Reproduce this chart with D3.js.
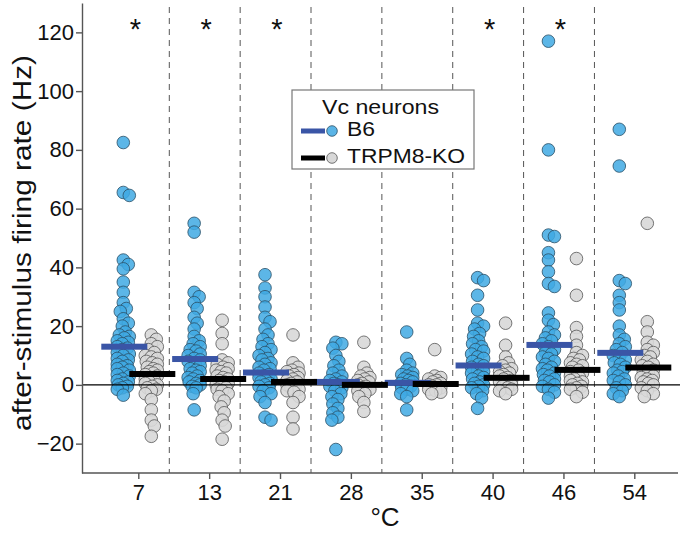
<!DOCTYPE html>
<html>
<head>
<script src="https://cdnjs.cloudflare.com/ajax/libs/d3/7.8.5/d3.min.js"></script>
<style type='text/css'>
  body { margin: 0; background: #fff; }
  svg text { font-family: "Liberation Sans", Arial, sans-serif; fill: #111; }
  .axis path, .axis line { stroke: #555; stroke-width: 1.4; }
  .axis text { font-size: 22px; fill: #111; font-family: "Liberation Sans", Arial, sans-serif; }
</style>
</head>
<body>
<div id='chart'></div>
<script type='text/javascript'>
var temps = ['7', '13', '21', '28', '35', '40', '46', '54'];
var yTicks = [-20, 0, 20, 40, 60, 80, 100, 120];
var starred = ['7', '13', '21', '40', '46'];

// B6 neurons, one list per temperature
var b6 = {
  '7':  [82.5, 65.5, 64.5, 42.5, 41, 39.5, 35, 31.5, 28, 26, 25, 22.5, 21, 20, 18, 17, 16.5, 16, 15, 14.5, 14, 13, 12.5, 12, 11, 10.5, 10, 9, 8.5, 8, 7, 6.5, 6, 5.5, 5, 4, 3.5, 3, 2, 1.5, 1, 0.5, 0, -0.5, -1, -1.5, -3.5],
  '13': [55, 52, 31.5, 30, 28, 26, 23, 21, 19, 16.5, 15, 14, 13, 12, 11.5, 10.5, 10, 9, 8.5, 8, 7, 6.5, 5.5, 5, 4.5, 4, 3, 2.5, 2, 1.5, 1, 0.5, 0, -0.5, -1, -3, -8.5],
  '21': [37.5, 33, 30, 26.5, 23, 21.5, 19, 17, 15.5, 14, 13, 12, 11, 10, 9, 8.5, 7.5, 7, 6, 5.5, 5, 4, 3.5, 3, 2.5, 2, 1.5, 1, 0.5, 0, -0.5, -1, -2, -3, -4, -6, -11, -12],
  '28': [14.5, 14, 12.5, 10, 8, 6.5, 5, 4, 3, 2, 1.5, 1, 0.5, 0, -0.5, -1, -2, -3, -4, -5, -6.5, -8, -9.5, -11, -12, -22],
  '35': [18, 9, 7, 5, 4, 3.5, 3, 2.5, 2, 1.5, 1, 0.5, 0, -0.5, -1, -1.5, -2, -3, -4, -8.5],
  '40': [36.5, 35.5, 30.5, 25.5, 21, 20, 19, 17.5, 16.5, 15, 14, 13, 12, 11.5, 10.5, 9.5, 9, 8, 7, 6.5, 6, 5, 4.5, 4, 3, 2.5, 2, 1, 0.5, 0, -0.5, -1, -2, -3, -4.5, -8],
  '46': [117, 80, 51, 50.5, 45, 42.5, 38.5, 34.5, 33.5, 24.5, 22, 20.5, 18, 17, 16, 15, 14, 13, 12, 11, 10.5, 9.5, 9, 8, 7, 6, 5.5, 5, 4, 3.5, 3, 2, 1.5, 1, 0, -0.5, -1.5, -2.5, -4.5],
  '54': [87, 74.5, 35.5, 34.5, 30.5, 28, 25.5, 20, 17, 15.5, 14, 13, 12, 11, 10, 9, 8.5, 7.5, 7, 6, 5, 4.5, 4, 3, 2, 1.5, 1, 0, -1, -2, -3, -4]
};

// TRPM8-KO neurons
var ko = {
  '7':  [17, 15.5, 14, 13, 12, 11, 10, 9.5, 9, 8, 7.5, 7, 6, 5.5, 5, 4.5, 4, 3.5, 3, 2.5, 2, 1.5, 1, 0.5, 0, -0.5, -1, -1.5, -2, -3, -5, -8.5, -12, -14, -17.5],
  '13': [22, 17.5, 14, 8.5, 7.5, 7, 6, 5.5, 5, 4.5, 4, 3, 2.5, 2, 1.5, 1, 0.5, 0, -0.5, -1, -1.5, -2, -3, -4, -5.5, -7.5, -9.5, -12, -14, -18.5],
  '21': [17, 7.5, 6, 5, 4.5, 4, 3.5, 3, 2.5, 2, 1.5, 1, 0.5, 0, -0.5, -1, -1.5, -2, -2.5, -4, -6, -11, -15],
  '28': [14.5, 6, 4, 3, 2.5, 2, 1.5, 1, 0.5, 0, -0.5, -1, -1.5, -2, -3, -4, -6, -9],
  '35': [12, 3, 2.5, 2, 1.5, 1, 0.5, 0, 0, -0.5, -1, -1.5, -2, -2.5, -3],
  '40': [21, 13.5, 9.5, 7.5, 6.5, 5.5, 5, 4.5, 4, 3.5, 3, 2.5, 2, 1.5, 1, 0.5, 0, -0.5, -1, -1.5, -2, -3],
  '46': [43, 30.5, 19.5, 16.5, 13.5, 11, 10, 9, 8.5, 7.5, 7, 6.5, 6, 5, 4.5, 4, 3.5, 3, 2.5, 2, 1.5, 1, 0.5, 0, -0.5, -1, -1.5, -2.5, -4],
  '54': [55, 21.5, 18, 14.5, 13.5, 12, 11, 10, 9.5, 8.5, 8, 7, 6.5, 6, 5, 4.5, 4, 3, 2.5, 2, 1.5, 1, 0.5, 0, -1, -2, -3, -4]
};

// mean bars as drawn
var b6Mean = [13, 8.8, 4.2, 1, 0.7, 6.6, 13.6, 10.9];
var koMean = [3.7, 2, 1, 0, 0.3, 2.4, 5.1, 5.9];

var W = 680, H = 533;
var mLeft = 82, mRight = 680, mTop = 3, mBottom = 473;

var svg = d3.select('#chart').append('svg')
  .attr('width', W).attr('height', H);

var x = d3.scalePoint().domain(temps).range([138.3, 634.3]);
var step = x.step();
var y = d3.scaleLinear().domain([-30, 130]).range([mBottom, mTop]);

// dashed separators
svg.append('g').selectAll('line')
  .data(temps.slice(1))
  .enter().append('line')
  .attr('x1', function(d) { return x(d) - step + 31; })
  .attr('x2', function(d) { return x(d) - step + 31; })
  .attr('y1', 7).attr('y2', mBottom)
  .attr('stroke', '#555').attr('stroke-width', 1)
  .attr('stroke-dasharray', '6,5');

// simple dodge layout so dots pile up like a swarm
function swarm(vals, cx) {
  var placed = [];
  var sorted = vals.slice().sort(function(a, b) { return b - a; });
  var minD = 6.5, maxOff = 6;
  sorted.forEach(function(v) {
    var py = y(v);
    var best = 0, bestD = -1;
    for (var k = 0; k <= maxOff * 2; k++) {
      var off = k === 0 ? 0 : (k % 2 ? Math.ceil(k / 2) : -k / 2);
      var d = 1e9;
      placed.forEach(function(p) {
        var dd = Math.hypot(p.x - (cx + off), p.y - py);
        if (dd < d) d = dd;
      });
      if (d >= minD) { best = off; bestD = d; break; }
      if (d > bestD) { bestD = d; best = off; }
    }
    placed.push({ x: cx + best, y: py, v: v });
  });
  return placed;
}

var blueDots = [], grayDots = [];
temps.forEach(function(t) {
  blueDots = blueDots.concat(swarm(b6[t], x(t) - 15));
  grayDots = grayDots.concat(swarm(ko[t], x(t) + 13));
});

svg.append('g').selectAll('circle')
  .data(blueDots)
  .enter().append('circle')
  .attr('cx', function(d) { return d.x; })
  .attr('cy', function(d) { return d.y; })
  .attr('r', 6.3)
  .attr('fill', '#40a9e3').attr('fill-opacity', 0.85)
  .attr('stroke', '#2b4f66').attr('stroke-width', 0.8);

svg.append('g').selectAll('circle')
  .data(grayDots)
  .enter().append('circle')
  .attr('cx', function(d) { return d.x; })
  .attr('cy', function(d) { return d.y; })
  .attr('r', 6.3)
  .attr('fill', '#d8d8d8').attr('fill-opacity', 0.9)
  .attr('stroke', '#555').attr('stroke-width', 0.8);

// zero line
svg.append('line')
  .attr('x1', mLeft).attr('x2', mRight)
  .attr('y1', y(0)).attr('y2', y(0))
  .attr('stroke', '#000').attr('stroke-width', 1.3);

// mean bars
svg.append('g').selectAll('rect')
  .data(temps)
  .enter().append('rect')
  .attr('x', function(d) { return x(d) - 14 - 23; })
  .attr('y', function(d, i) { return y(b6Mean[i]) - 3; })
  .attr('width', 46).attr('height', 6)
  .attr('fill', '#3a55a6');

svg.append('g').selectAll('rect')
  .data(temps)
  .enter().append('rect')
  .attr('x', function(d) { return x(d) + 14 - 23; })
  .attr('y', function(d, i) { return y(koMean[i]) - 3; })
  .attr('width', 46).attr('height', 6)
  .attr('fill', '#000');

// axes
var yAxis = d3.axisLeft(y).tickValues(yTicks).tickSize(6).tickSizeOuter(0).tickPadding(2);
svg.append('g').attr('class', 'axis')
  .attr('transform', 'translate(' + mLeft + ',0)')
  .call(yAxis);

var xAxis = d3.axisBottom(x).tickSize(6).tickSizeOuter(0).tickPadding(5);
var gx = svg.append('g').attr('class', 'axis')
  .attr('transform', 'translate(0,' + mBottom + ')')
  .call(xAxis);
gx.select('.domain').attr('d', 'M' + mLeft + ',0H' + (mRight - 2));

// the source figure's lettering is stretched, so fit lengths
svg.append('text')
  .attr('transform', 'translate(31,' + 243 + ') rotate(-90)')
  .attr('text-anchor', 'middle')
  .attr('textLength', 376).attr('lengthAdjust', 'spacingAndGlyphs')
  .style('font-size', '25px')
  .text('after-stimulus firing rate (Hz)');

svg.append('text')
  .attr('x', 385).attr('y', 526)
  .attr('text-anchor', 'middle')
  .style('font-size', '26px')
  .text('°C');

// significance marks
svg.append('g').selectAll('text')
  .data(starred)
  .enter().append('text')
  .attr('x', function(d) { return x(d) - 3; })
  .attr('y', 39)
  .attr('text-anchor', 'middle')
  .style('font-size', '29px')
  .text('*');

// legend
var lg = svg.append('g');
lg.append('rect')
  .attr('x', 292).attr('y', 90).attr('width', 182).attr('height', 79)
  .attr('fill', '#fff').attr('stroke', '#777').attr('stroke-width', 1.2);
lg.append('text').attr('x', 322).attr('y', 114)
  .attr('textLength', 117).attr('lengthAdjust', 'spacingAndGlyphs')
  .style('font-size', '20px').text('Vc neurons');
var items = [
  { name: 'B6', len: 28, bar: '#3a55a6', fill: '#5ab4e6', stroke: '#2b4f66', y: 131 },
  { name: 'TRPM8-KO', len: 118, bar: '#000', fill: '#d8d8d8', stroke: '#555', y: 158 }
];
items.forEach(function(it) {
  lg.append('rect').attr('x', 301).attr('y', it.y - 2.5).attr('width', 24).attr('height', 5).attr('fill', it.bar);
  lg.append('circle').attr('cx', 332).attr('cy', it.y).attr('r', 5.3)
    .attr('fill', it.fill).attr('stroke', it.stroke).attr('stroke-width', 0.8);
  lg.append('text').attr('x', 347).attr('y', it.y + 4.5)
    .attr('textLength', it.len).attr('lengthAdjust', 'spacingAndGlyphs')
    .style('font-size', '20px').text(it.name);
});
</script>
</body>
</html>
